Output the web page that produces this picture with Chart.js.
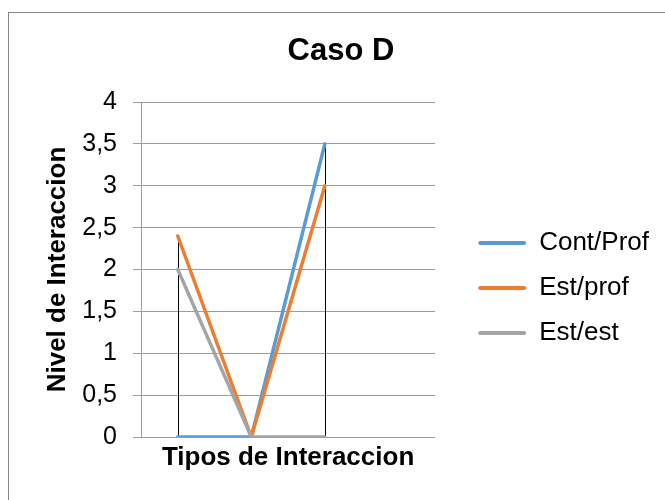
<!DOCTYPE html>
<html>
<head>
<meta charset="utf-8">
<script src="https://cdn.jsdelivr.net/npm/chart.js@4.4.1/dist/chart.umd.min.js"></script>
<style>
  body { margin: 0; background: #fff; }
</style>
</head>
<body>
<canvas id="chart" width="665" height="500"></canvas>
<script>
// Values
const categories = ["", "", "", ""];
const seriesNames = ["Cont/Prof", "Est/prof", "Est/est"];
const contProf = [0, 0, 3.5, null];
const estProf = [2.4, 0, 3, null];
const estEst = [2, 0, 0, null];
const yTickLabels = ["0", "0,5", "1", "1,5", "2", "2,5", "3", "3,5", "4"];
const colors = ["#5b9bd5", "#ed7d31", "#a5a5a5"];

const series = [contProf, estProf, estEst];

Chart.defaults.font.family = "'Liberation Sans', Arial, sans-serif";
Chart.defaults.color = "#000";

// white background + grey chart border (runs off the right/bottom edge)
const framePlugin = {
  id: "frame",
  beforeDraw(chart) {
    const ctx = chart.ctx;
    ctx.save();
    ctx.fillStyle = "#fff";
    ctx.fillRect(0, 0, chart.width, chart.height);
    ctx.strokeStyle = "#868686";
    ctx.lineWidth = 1;
    ctx.strokeRect(8.5, 12.5, 700, 600);
    ctx.restore();
  }
};

// high-low lines: black line from lowest to highest value at each category
const highLowPlugin = {
  id: "highLow",
  beforeDatasetsDraw(chart) {
    const { ctx, scales: { x, y } } = chart;
    ctx.save();
    ctx.strokeStyle = "#000";
    ctx.lineWidth = 1;
    categories.forEach((c, i) => {
      const vals = series.map(s => s[i]).filter(v => v !== null);
      if (vals.length < 2) return;
      const hi = Math.max(...vals);
      const lo = Math.min(...vals);
      if (hi === lo) return;
      const px = Math.round(x.getPixelForValue(i)) + 0.5;
      ctx.beginPath();
      ctx.moveTo(px, y.getPixelForValue(hi));
      ctx.lineTo(px, y.getPixelForValue(lo));
      ctx.stroke();
    });
    ctx.restore();
  }
};

new Chart(document.getElementById("chart"), {
  type: "line",
  data: {
    labels: categories,
    datasets: series.map((data, i) => ({
      label: seriesNames[i],
      data: data,
      borderColor: colors[i],
      backgroundColor: colors[i],
      borderWidth: 3.5,
      borderCapStyle: "round",
      borderJoinStyle: "round",
      pointRadius: 0,
      pointHoverRadius: 0,
      tension: 0,
      order: series.length - i // later series drawn on top
    }))
  },
  options: {
    responsive: false,
    animation: false,
    layout: { padding: { left: 23, right: 6, top: 0, bottom: 0 } },
    plugins: {
      title: {
        display: true,
        text: "Caso D",
        font: { size: 31, weight: "bold" },
        padding: { top: 32.4, bottom: 32.4 }
      },
      legend: {
        position: "right",
        fullSize: false,
        maxWidth: 400,
        title: { display: true, text: "", padding: 0, font: { size: 37, lineHeight: 1 } },
        labels: {
          boxWidth: 48,
          boxHeight: 4,
          padding: 19,
          font: { size: 26 },
          color: "#000",
          generateLabels: () => seriesNames.map((name, i) => ({
            text: name,
            fillStyle: colors[i],
            strokeStyle: colors[i],
            lineWidth: 0,
            borderRadius: 2,
            datasetIndex: i,
            hidden: false
          }))
        }
      },
      tooltip: { enabled: false }
    },
    scales: {
      x: {
        offset: true,
        grid: { display: false, drawTicks: false },
        border: { display: false },
        ticks: { display: false },
        title: {
          display: true,
          text: "Tipos de Interaccion",
          font: { size: 26, weight: "bold" },
          padding: { top: 0, bottom: 26.4 }
        },
        afterFit: s => { s.height = 63; }
      },
      y: {
        min: 0,
        max: 4,
        ticks: {
          stepSize: 0.5,
          padding: 16,
          font: { size: 25 },
          callback: (v, i) => yTickLabels[i]
        },
        grid: { color: "#9d9d9d", tickLength: 8 },
        border: { color: "#9d9d9d" },
        title: {
          display: true,
          text: "Nivel de Interaccion",
          font: { size: 26, weight: "bold" },
          padding: { top: 19.4, bottom: 0 }
        },
        afterFit: s => { s.width = 118; }
      },
      // empty spacer between plot and legend
      pad: {
        type: "linear",
        axis: "y",
        position: "right",
        grid: { display: false },
        border: { display: false },
        ticks: { display: false },
        afterFit: s => { s.width = 24; }
      }
    }
  },
  plugins: [framePlugin, highLowPlugin]
});
</script>
</body>
</html>
